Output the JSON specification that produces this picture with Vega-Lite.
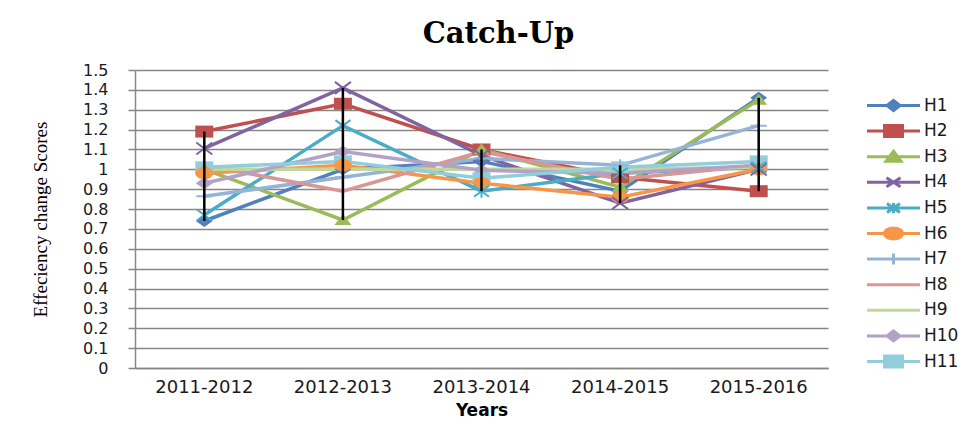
{
  "$schema": "https://vega.github.io/schema/vega-lite/v6.json",
  "width": 693,
  "height": 298,
  "autosize": {"type": "none"},
  "padding": {"left": 135, "top": 70, "right": 150, "bottom": 73},
  "background": "white",
  "title": {"text": "Catch-Up", "font": "DejaVu Serif", "fontSize": 29, "fontWeight": "bold", "color": "#000000", "anchor": "middle", "frame": "group", "dx": 17, "offset": 13},
  "config": {
    "view": {"stroke": null},
    "axis": {"domainColor": "#868686", "domainWidth": 1.5, "gridColor": "#868686", "gridWidth": 1.5, "tickColor": "#868686", "tickWidth": 1.5, "labelColor": "#1a1a1a", "titleColor": "#000000"}
  },
  "data": {"values": [
    {"series": "H1", "year": "2011-2012", "value": 0.74},
    {"series": "H1", "year": "2012-2013", "value": 1.0},
    {"series": "H1", "year": "2013-2014", "value": 1.04},
    {"series": "H1", "year": "2014-2015", "value": 0.89},
    {"series": "H1", "year": "2015-2016", "value": 1.36},
    {"series": "H2", "year": "2011-2012", "value": 1.19},
    {"series": "H2", "year": "2012-2013", "value": 1.33},
    {"series": "H2", "year": "2013-2014", "value": 1.1},
    {"series": "H2", "year": "2014-2015", "value": 0.96},
    {"series": "H2", "year": "2015-2016", "value": 0.89},
    {"series": "H3", "year": "2011-2012", "value": 1.0},
    {"series": "H3", "year": "2012-2013", "value": 0.745},
    {"series": "H3", "year": "2013-2014", "value": 1.1},
    {"series": "H3", "year": "2014-2015", "value": 0.91},
    {"series": "H3", "year": "2015-2016", "value": 1.35},
    {"series": "H4", "year": "2011-2012", "value": 1.105},
    {"series": "H4", "year": "2012-2013", "value": 1.41},
    {"series": "H4", "year": "2013-2014", "value": 1.07},
    {"series": "H4", "year": "2014-2015", "value": 0.83},
    {"series": "H4", "year": "2015-2016", "value": 1.0},
    {"series": "H5", "year": "2011-2012", "value": 0.77},
    {"series": "H5", "year": "2012-2013", "value": 1.22},
    {"series": "H5", "year": "2013-2014", "value": 0.89},
    {"series": "H5", "year": "2014-2015", "value": 0.98},
    {"series": "H5", "year": "2015-2016", "value": 1.01},
    {"series": "H6", "year": "2011-2012", "value": 0.98},
    {"series": "H6", "year": "2012-2013", "value": 1.02},
    {"series": "H6", "year": "2013-2014", "value": 0.93},
    {"series": "H6", "year": "2014-2015", "value": 0.86},
    {"series": "H6", "year": "2015-2016", "value": 1.0},
    {"series": "H7", "year": "2011-2012", "value": 0.865},
    {"series": "H7", "year": "2012-2013", "value": 0.96},
    {"series": "H7", "year": "2013-2014", "value": 1.055},
    {"series": "H7", "year": "2014-2015", "value": 1.02},
    {"series": "H7", "year": "2015-2016", "value": 1.22},
    {"series": "H8", "year": "2011-2012", "value": 1.02},
    {"series": "H8", "year": "2012-2013", "value": 0.89},
    {"series": "H8", "year": "2013-2014", "value": 1.09},
    {"series": "H8", "year": "2014-2015", "value": 0.95},
    {"series": "H8", "year": "2015-2016", "value": 1.02},
    {"series": "H9", "year": "2011-2012", "value": 1.0},
    {"series": "H9", "year": "2012-2013", "value": 1.0},
    {"series": "H9", "year": "2013-2014", "value": 1.0},
    {"series": "H9", "year": "2014-2015", "value": 1.0},
    {"series": "H9", "year": "2015-2016", "value": 1.01},
    {"series": "H10", "year": "2011-2012", "value": 0.93},
    {"series": "H10", "year": "2012-2013", "value": 1.09},
    {"series": "H10", "year": "2013-2014", "value": 0.995},
    {"series": "H10", "year": "2014-2015", "value": 0.98},
    {"series": "H10", "year": "2015-2016", "value": 1.02},
    {"series": "H11", "year": "2011-2012", "value": 1.01},
    {"series": "H11", "year": "2012-2013", "value": 1.04},
    {"series": "H11", "year": "2013-2014", "value": 0.955},
    {"series": "H11", "year": "2014-2015", "value": 1.01},
    {"series": "H11", "year": "2015-2016", "value": 1.04}
  ]},
  "encoding": {
    "x": {"field": "year", "type": "nominal", "title": "Years",
      "axis": {"labelAngle": 0, "ticks": false, "grid": false, "labelFont": "DejaVu Sans", "labelFontSize": 18, "labelPadding": 10, "titleFont": "DejaVu Sans", "titleFontSize": 17, "titleFontWeight": "bold", "titlePadding": 6}},
    "y": {"field": "value", "type": "quantitative", "title": "Effeciency change Scores",
      "scale": {"domain": [0, 1.5], "nice": false, "zero": true},
      "axis": {"values": [0, 0.1, 0.2, 0.3, 0.4, 0.5, 0.6, 0.7, 0.8, 0.9, 1, 1.1, 1.2, 1.3, 1.4, 1.5], "format": "~g", "tickSize": 7, "labelPadding": 20, "labelFont": "DejaVu Sans", "labelFontSize": 16, "titleFont": "Liberation Serif", "titleFontSize": 19, "titleFontWeight": "normal", "titlePadding": 32}},
    "color": {"field": "series", "type": "nominal",
      "scale": {"domain": ["H1", "H2", "H3", "H4", "H5", "H6", "H7", "H8", "H9", "H10", "H11"],
        "range": ["#4F81BD", "#C0504D", "#9BBB59", "#8064A2", "#4BACC6", "#F79646", "#95B3D7", "#D99694", "#C3D69B", "#B3A2C7", "#92CDDC"]},
      "legend": {"orient": "none", "legendX": 730, "legendY": 27, "direction": "vertical", "title": null, "padding": 0,
        "labelFont": "DejaVu Sans", "labelFontSize": 17, "labelColor": "#1a1a1a",
        "symbolSize": 100, "symbolStrokeWidth": 3, "symbolOffset": 20, "labelOffset": 22, "rowPadding": 2.6,
        "encode": {"symbols": {"update": {
          "shape": {"signal": "{'H1': 'M0,-1.1M0,1.1M-5.3,0L5.3,0M-1.3,0L0,-1L1.3,0L0,1Z', 'H2': 'M0,-1.1M0,1.1M-5.3,0L5.3,0M-1.8,-1.1L1.8,-1.1L1.8,1.1L-1.8,1.1Z', 'H3': 'M0,-1.1M0,1.1M-5.3,0L5.3,0M0,-1.1L1.5,0.9L-1.5,0.9Z', 'H4': 'M0,-1.1M0,1.1M-5.3,0L5.3,0M-1.4,-0.9L1.4,0.9M-1.4,0.9L1.4,-0.9', 'H5': 'M0,-1.1M0,1.1M-5.3,0L5.3,0M-1.3,-0.9L1.3,0.9M-1.3,0.9L1.3,-0.9M0,-1L0,1', 'H6': 'M0,-1.1M0,1.1M-5.3,0L5.3,0M-1.8,0A1.8,1.1 0 1,0 1.8,0A1.8,1.1 0 1,0 -1.8,0Z', 'H7': 'M0,-1.1M0,1.1M-5.3,0L5.3,0M0,-1.1L0,1.1', 'H8': 'M0,-1.1M0,1.1M-5.3,0L5.3,0', 'H9': 'M0,-1.1M0,1.1M-5.3,0L5.3,0', 'H10': 'M0,-1.1M0,1.1M-5.3,0L5.3,0M-1.3,0L0,-1L1.3,0L0,1Z', 'H11': 'M0,-1.1M0,1.1M-5.3,0L5.3,0M-1.8,-1.1L1.8,-1.1L1.8,1.1L-1.8,1.1Z'}[datum.value]"},
          "fill": {"scale": "color", "field": "value"},
          "stroke": {"scale": "color", "field": "value"},
          "strokeWidth": {"value": 3},
          "opacity": {"value": 1},
          "fillOpacity": {"value": 1},
          "strokeOpacity": {"value": 1}
        }}}}
    }
  },
  "layer": [
    {"mark": {"type": "line", "strokeWidth": 3.5}},
    {
      "transform": [{"filter": {"field": "series", "oneOf": ["H1", "H10"]}}],
      "mark": {"type": "point", "filled": true, "size": 100, "opacity": 1, "shape": "M-1.7,0L0,-1.2L1.7,0L0,1.2Z"}
    },
    {
      "transform": [{"filter": {"field": "series", "oneOf": ["H2", "H11"]}}],
      "mark": {"type": "point", "filled": true, "size": 100, "opacity": 1, "shape": "M-1.8,-1.2L1.8,-1.2L1.8,1.2L-1.8,1.2Z"}
    },
    {
      "transform": [{"filter": {"field": "series", "equal": "H3"}}],
      "mark": {"type": "point", "filled": true, "size": 100, "opacity": 1, "shape": "M0,-1.2L1.7,1L-1.7,1Z"}
    },
    {
      "transform": [{"filter": {"field": "series", "equal": "H6"}}],
      "mark": {"type": "point", "filled": true, "size": 100, "opacity": 1, "shape": "M-1.8,0A1.8,1.2 0 1,0 1.8,0A1.8,1.2 0 1,0 -1.8,0Z"}
    },
    {
      "transform": [{"filter": {"field": "series", "equal": "H4"}}],
      "mark": {"type": "point", "filled": false, "size": 100, "opacity": 1, "strokeWidth": 2, "shape": "M-1.6,-1.2L1.6,1.2M-1.6,1.2L1.6,-1.2"}
    },
    {
      "transform": [{"filter": {"field": "series", "equal": "H5"}}],
      "mark": {"type": "point", "filled": false, "size": 100, "opacity": 1, "strokeWidth": 2, "shape": "M-1.5,-1.1L1.5,1.1M-1.5,1.1L1.5,-1.1M0,-1.3L0,1.3"}
    },
    {
      "transform": [{"filter": {"field": "series", "equal": "H7"}}],
      "mark": {"type": "point", "filled": false, "size": 100, "opacity": 1, "strokeWidth": 2, "shape": "M0,-1.2L0,1.2M-1.6,0L1.6,0"}
    },
    {
      "mark": {"type": "rule", "color": "#000000", "strokeWidth": 2.5},
      "encoding": {
        "color": {"value": "#000000"},
        "y": {"aggregate": "min", "field": "value", "type": "quantitative"},
        "y2": {"aggregate": "max", "field": "value"}
      }
    }
  ]
}
